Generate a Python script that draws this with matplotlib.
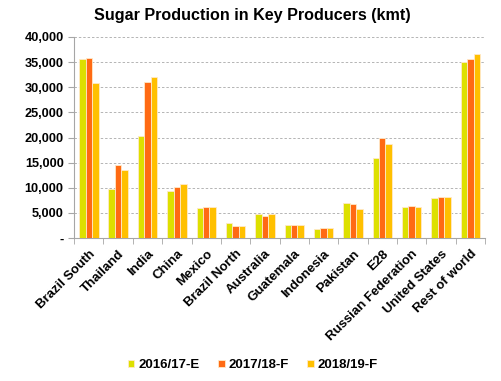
import numpy as np
import matplotlib.pyplot as plt
from matplotlib.ticker import FuncFormatter

plt.rcParams['font.family'] = ['Liberation Sans', 'DejaVu Sans']
plt.rcParams['font.weight'] = 'bold'

# Datos (kmt)
paises = ["Brazil South", "Thailand", "India", "China", "Mexico", "Brazil North",
          "Australia", "Guatemala", "Indonesia", "Pakistan", "E28",
          "Russian Federation", "United States", "Rest of world"]
serie_1617 = [35600, 9800, 20300, 9400, 5900, 3000, 4700, 2650, 1900, 7000, 16000, 6100, 7900, 35050]
serie_1718 = [35900, 14600, 31050, 10100, 6100, 2400, 4400, 2650, 2100, 6800, 20000, 6400, 8250, 35600]
serie_1819 = [30750, 13500, 32000, 10700, 6100, 2400, 4700, 2650, 2100, 5750, 18750, 6100, 8100, 36700]
etiquetas = ["2016/17-E", "2017/18-F", "2018/19-F"]
colores = ["#DDE000", "#FF6A13", "#FFC000"]

fig = plt.figure(figsize=(5.01, 3.81), dpi=100)
ax = fig.add_axes([0.148, 0.375, 0.82, 0.528])

x = np.arange(len(paises))
ancho = 0.22
for i, (vals, lab, col) in enumerate(zip([serie_1617, serie_1718, serie_1819], etiquetas, colores)):
    ax.bar(x + (i - 1) * ancho, vals, ancho, color=col, label=lab,
           edgecolor="#FFE9C8", linewidth=0.6, zorder=3)

ax.set_xlim(-0.5, len(paises) - 0.5)
ax.set_ylim(0, 40000)
ax.set_yticks(np.arange(0, 40001, 5000))
ax.yaxis.set_major_formatter(FuncFormatter(lambda v, p: "-" if v == 0 else f"{int(v):,}"))
ax.grid(axis='y', linestyle=(0, (2.5, 2)), color="#B4B4B4", linewidth=0.7, zorder=0)

ax.set_xticks(x)
ax.set_xticklabels(paises, rotation=45, ha='right', rotation_mode='anchor', fontsize=9.5)
ax.set_xticks(np.arange(-0.5, len(paises)), minor=True)
ax.tick_params(axis='x', which='major', length=0, pad=7)
ax.tick_params(axis='x', which='minor', length=4, color="#A6A6A6")
ax.tick_params(axis='y', length=4, color="#A6A6A6", labelsize=9.2)

for s in ['top', 'right']:
    ax.spines[s].set_visible(False)
for s in ['left', 'bottom']:
    ax.spines[s].set_color("#A6A6A6")

fig.text(0.503, 0.96, "Sugar Production in Key Producers (kmt)", fontsize=11.6,
         fontweight='bold', ha='center', va='center')

handles, labels = ax.get_legend_handles_labels()
fig.legend(handles, labels, loc='center', bbox_to_anchor=(0.505, 0.042), ncol=3, frameon=False,
           fontsize=9.5, handlelength=0.5, handleheight=0.5, handletextpad=0.3, columnspacing=1.4)

fig.savefig("out.png", dpi=100)
